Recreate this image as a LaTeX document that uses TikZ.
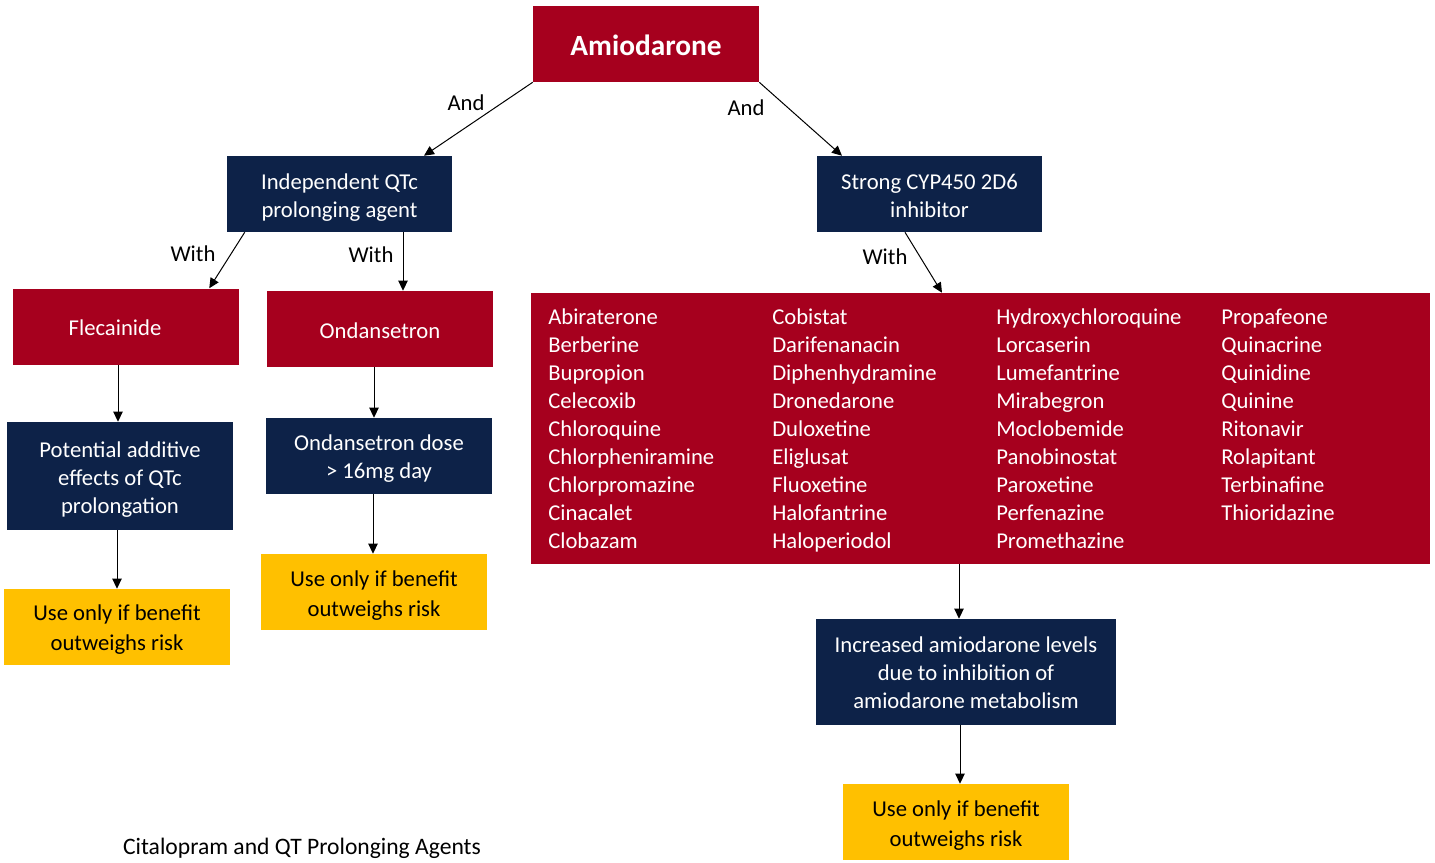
\documentclass[tikz,border=0pt]{standalone}
\usepackage{fontspec}
\setmainfont{Carlito}
\usetikzlibrary{calc,arrows.meta}
\definecolor{drugred}{HTML}{A6001E}
\definecolor{navy}{HTML}{0D2248}
\definecolor{gold}{HTML}{FFC000}
\tikzset{
  box/.style={inner sep=0pt, minimum width={226*0.75pt}, minimum height={76*0.75pt}},
  redbox/.style={box, fill=drugred},
  navybox/.style={box, fill=navy},
  goldbox/.style={box, fill=gold},
  txt/.style={inner sep=0pt, align=center, text=white, font=\fontsize{17}{21}\selectfont},
  goldtxt/.style={txt, text=black, font=\fontsize{17}{22.5}\selectfont},
  arr/.style={-{Triangle[length=7.5pt,width=7pt]}, line width=0.75pt, black},
  lbl/.style={inner sep=0pt, font=\fontsize{17}{21}\selectfont},
  item/.style={inner sep=0pt, anchor=base west, text=white, font=\fontsize{17}{21}\selectfont},
}
\begin{document}
\begin{tikzpicture}[x=0.75pt, y=-0.75pt]
\useasboundingbox (0,0) rectangle (1435,863);

% boxes
\node[redbox] (amio) at (646,44) {};
\node[navybox, minimum width={225*0.75pt}] (indep) at (339.5,194) {};
\node[navybox, minimum width={225*0.75pt}] (cyp) at (929.5,194) {};
\node[redbox] (flec) at (126,326.5) {};
\node[redbox] (ond) at (380,329) {};
\node[navybox, minimum height={108*0.75pt}] (pot) at (120,476) {};
\node[navybox] (dose) at (379,456) {};
\node[goldbox] (use1) at (117,627) {};
\node[goldbox] (use2) at (374,592) {};
\node[redbox, minimum width={899*0.75pt}, minimum height={271*0.75pt}] (list) at (980.5,428.5) {};
\node[navybox, minimum width={300*0.75pt}, minimum height={106*0.75pt}] (incr) at (966,672) {};
\node[goldbox] (use3) at (956,822) {};

% box texts
\node[txt, font=\fontsize{22}{26}\selectfont\bfseries] (amio-t) at ($(amio)+(0,1)$) {Amiodarone};
\node[txt] (indep-t) at ($(indep)+(0,4)$) {Independent QTc\\prolonging agent};
\node[txt] (cyp-t) at ($(cyp)+(0,1.5)$) {Strong CYP450 2D6\\inhibitor};
\node[txt] (flec-t) at ($(flec)+(-11,1)$) {Flecainide};
\node[txt] (ond-t) at ($(ond)+(0,2)$) {Ondansetron};
\node[txt] (pot-t) at ($(pot)+(0,4)$) {Potential additive\\effects of QTc\\prolongation};
\node[txt] (dose-t) at ($(dose)+(0,3)$) {Ondansetron dose\\> 16mg day};
\node[goldtxt] (use1-t) at ($(use1)+(0,3)$) {Use only if benefit\\outweighs risk};
\node[goldtxt] (use2-t) at ($(use2)+(0,4)$) {Use only if benefit\\outweighs risk};
\node[txt] (incr-t) at ($(incr)+(0,1)$) {Increased amiodarone levels\\due to inhibition of\\amiodarone metabolism};
\node[goldtxt] (use3-t) at ($(use3)+(0,4)$) {Use only if benefit\\outweighs risk};

% drug list, four columns
\foreach \d [count=\i from 0] in {Abiraterone,Berberine,Bupropion,Celecoxib,Chloroquine,Chlorpheniramine,Chlorpromazine,Cinacalet,Clobazam}
  \node[item] (ca\i) at (548,324+28*\i) {\d};
\foreach \d [count=\i from 0] in {Cobistat,Darifenanacin,Diphenhydramine,Dronedarone,Duloxetine,Eliglusat,Fluoxetine,Halofantrine,Haloperiodol}
  \node[item] (cb\i) at (772,324+28*\i) {\d};
\foreach \d [count=\i from 0] in {Hydroxychloroquine,Lorcaserin,Lumefantrine,Mirabegron,Moclobemide,Panobinostat,Paroxetine,Perfenazine,Promethazine}
  \node[item] (cc\i) at (996,324+28*\i) {\d};
\foreach \d [count=\i from 0] in {Propafeone,Quinacrine,Quinidine,Quinine,Ritonavir,Rolapitant,Terbinafine,Thioridazine}
  \node[item] (cd\i) at (1221,324+28*\i) {\d};

% connectors
\draw[arr] (amio.south west) -- ($(indep.north)+(84.5,0)$);
\draw[arr] (amio.south east) -- ($(cyp.north)+(-87.5,0)$);
\draw[arr] ($(indep.south west)+(18,0)$) -- ($(flec.north east)+(-30,0)$);
\draw[arr] ($(indep.south)+(63.5,0)$) -- ($(ond.north)+(23,0)$);
\draw[arr] ($(cyp.south)+(-24.5,0)$) -- ($(list.north)+(-38.5,0)$);
\draw[arr] ($(flec.south)+(-8,0)$) -- ($(pot.north)+(-2,0)$);
\draw[arr] ($(ond.south)+(-6,0)$) -- ($(dose.north)+(-5,0)$);
\draw[arr] ($(pot.south)+(-3,0)$) -- (use1.north);
\draw[arr] ($(dose.south)+(-6,0)$) -- ($(use2.north)+(-1,0)$);
\draw[arr] ($(list.south)+(-21.5,0)$) -- ($(incr.north)+(-7,0)$);
\draw[arr] ($(incr.south)+(-6,0)$) -- ($(use3.north)+(4,0)$);

% connector labels
\node[lbl] (and1) at (466,103) {And};
\node[lbl] (and2) at (746,108) {And};
\node[lbl] (with1) at (193,254) {With};
\node[lbl] (with2) at (371,255) {With};
\node[lbl] (with3) at (885,257) {With};

% caption
\node[lbl, font=\fontsize{17.7}{21}\selectfont] (title) at (302,848) {Citalopram and QT Prolonging Agents};
\end{tikzpicture}
\end{document}
